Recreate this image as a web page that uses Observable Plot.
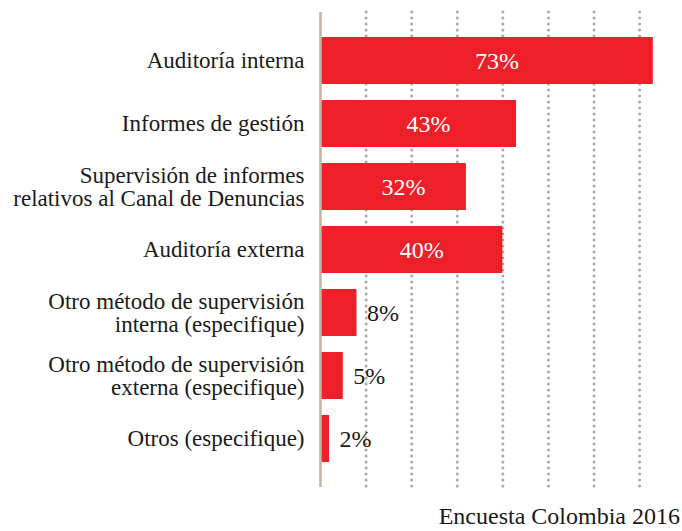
<!DOCTYPE html>
<html>
<head>
<meta charset="utf-8">
<script src="https://cdn.jsdelivr.net/npm/d3@7"></script>
<script src="https://cdn.jsdelivr.net/npm/@observablehq/plot@0.6"></script>
<style>
  html, body { margin: 0; padding: 0; background: #fff; }
  #wrap { width: 682px; font-family: "Liberation Serif", serif; }
  #caption { text-align: right; font-size: 24px; color: #1a1a1a; padding-right: 2px; line-height: 26px; margin-top: 3px; }
</style>
</head>
<body>
<div id="wrap">
  <div id="chart"></div>
  <div id="caption">Encuesta Colombia 2016</div>
</div>
<script>
const categories = [
  "Auditoría interna",
  "Informes de gestión",
  "Supervisión de informes\nrelativos al Canal de Denuncias",
  "Auditoría externa",
  "Otro método de supervisión\ninterna (especifique)",
  "Otro método de supervisión\nexterna (especifique)",
  "Otros (especifique)"
];
const values = [73, 43, 32, 40, 8, 5, 2];
const gridTicks = [10, 20, 30, 40, 50, 60, 70];

const data = categories.map((c, i) => ({category: c, value: values[i]}));
const red = "#ee1f28";

const chart = Plot.plot({
  width: 682,
  height: 500,
  marginLeft: 320,
  marginRight: 0,
  marginTop: 12,
  marginBottom: 13,
  style: {fontFamily: "Liberation Serif, serif", fontSize: "23px", color: "#1a1a1a", background: "#fff"},
  x: {domain: [0, 79.4], axis: null},
  y: {domain: categories, paddingInner: 0.26, paddingOuter: 0.37, axis: null},
  marks: [
    Plot.ruleX(gridTicks, {stroke: "#a89787", strokeWidth: 3, strokeDasharray: "0 6", strokeLinecap: "round", strokeOpacity: 0.85}),
    Plot.barX(data, {x: "value", y: "category", fill: red}),
    Plot.ruleX([0], {stroke: "#c3b4a5", strokeWidth: 2.5}),
    Plot.axisY({tickSize: 0, tickPadding: 16, fontSize: 23, lineHeight: 1.0, fill: "#1a1a1a", label: null}),
    Plot.text(data.filter(d => d.value >= 20), {x: d => d.value / 2, y: "category", text: d => d.value + "%", fill: "#fff", fontSize: 24, dx: 10}),
    Plot.text(data.filter(d => d.value < 20), {x: "value", y: "category", text: d => d.value + "%", fill: "#1a1a1a", fontSize: 24, textAnchor: "start", dx: 10})
  ]
});
document.getElementById("chart").appendChild(chart);
</script>
</body>
</html>
